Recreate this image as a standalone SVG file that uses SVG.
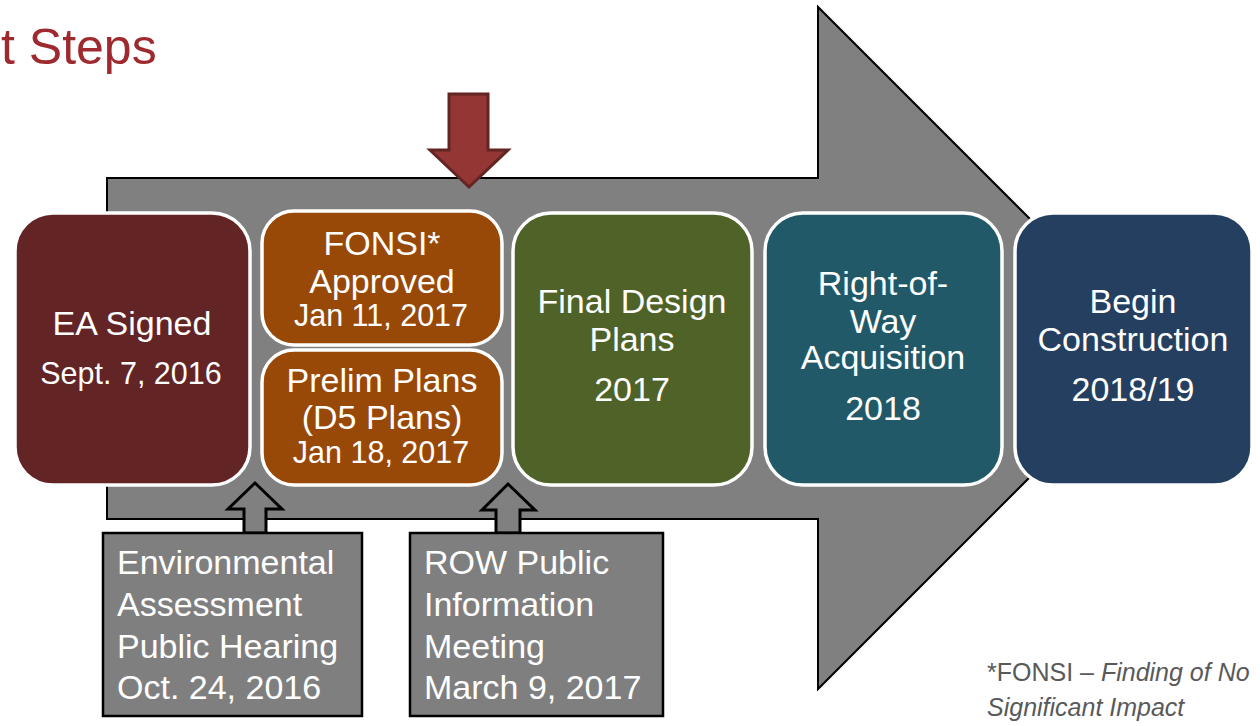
<svg xmlns="http://www.w3.org/2000/svg" width="1260" height="726" viewBox="0 0 1260 726">
<style>
text{font-family:"Liberation Sans",Arial,sans-serif}
.node{stroke:#fff;stroke-width:3.5}
.w{fill:#fff;text-anchor:middle}
.big{font-size:34px}
.sm{font-size:30.5px}
.gbox{fill:#7f7f7f;stroke:#000;stroke-width:2.5}
.gt{fill:#fff;font-size:34px}
.up{fill:#808080;stroke:#000;stroke-width:3}
</style>
<rect width="1260" height="726" fill="#fff"/>
<text x="1" y="64" font-size="50" fill="#9e2a2f">t Steps</text>
<g id="big-arrow">
<polygon points="107,178 818,178 818,7 1159,348 818,689 818,519 107,519" fill="#808080" stroke="#000" stroke-width="2"/>
</g>
<g id="connectors">
<polygon class="up" points="255,483 282,509 266,509 266,533 244,533 244,509 228,509"/>
<polygon class="up" points="508,484 535,510 520,510 520,533 496,533 496,510 482,510"/>
<polygon points="449,94 488,94 488,150 508,150 469,187 430,150 449,150" fill="#943634" stroke="#632523" stroke-width="3"/>
</g>
<g id="ea-signed">
<rect class="node" x="15" y="213" width="235" height="272" rx="38" fill="#622425"/>
<text class="w big" x="132" y="335">EA Signed</text>
<text class="w sm" x="131" y="384">Sept. 7, 2016</text>
</g>
<g id="fonsi">
<rect class="node" x="262" y="211" width="240" height="134" rx="32" fill="#984807"/>
<text class="w big" x="382" y="255">FONSI*</text>
<text class="w big" x="382" y="293">Approved</text>
<text class="w sm" x="381" y="326">Jan 11, 2017</text>
</g>
<g id="prelim">
<rect class="node" x="262" y="350" width="240" height="135" rx="32" fill="#984807"/>
<text class="w big" x="382" y="392">Prelim Plans</text>
<text class="w big" x="382" y="429">(D5 Plans)</text>
<text class="w sm" x="381" y="463">Jan 18, 2017</text>
</g>
<g id="final-design">
<rect class="node" x="513" y="213" width="239" height="272" rx="38" fill="#4f6228"/>
<text class="w big" x="632" y="313">Final Design</text>
<text class="w big" x="632" y="351">Plans</text>
<text class="w big" x="632" y="401">2017</text>
</g>
<g id="right-of-way">
<rect class="node" x="765" y="213" width="237" height="272" rx="38" fill="#215968"/>
<text class="w big" x="883" y="295">Right-of-</text>
<text class="w big" x="883" y="333">Way</text>
<text class="w big" x="883" y="369">Acquisition</text>
<text class="w big" x="883" y="420">2018</text>
</g>
<g id="begin-construction">
<rect class="node" x="1015" y="213" width="237" height="272" rx="38" fill="#243f60"/>
<text class="w big" x="1133" y="313">Begin</text>
<text class="w big" x="1133" y="351">Construction</text>
<text class="w big" x="1133" y="401">2018/19</text>
</g>
<g id="ea-hearing">
<rect class="gbox" x="103" y="533" width="259" height="183"/>
<text class="gt" x="117" y="574">Environmental</text>
<text class="gt" x="117" y="616">Assessment</text>
<text class="gt" x="117" y="658">Public Hearing</text>
<text class="gt" x="117" y="699">Oct. 24, 2016</text>
</g>
<g id="row-meeting">
<rect class="gbox" x="410" y="533" width="253" height="183"/>
<text class="gt" x="424" y="574">ROW Public</text>
<text class="gt" x="424" y="616">Information</text>
<text class="gt" x="424" y="658">Meeting</text>
<text class="gt" x="424" y="699">March 9, 2017</text>
</g>
<g id="footnote">
<text x="987" y="681" font-size="25" fill="#595959">*FONSI – <tspan font-style="italic">Finding of No</tspan></text>
<text x="987" y="716" font-size="25" fill="#595959" font-style="italic">Significant Impact</text>
</g>
</svg>
